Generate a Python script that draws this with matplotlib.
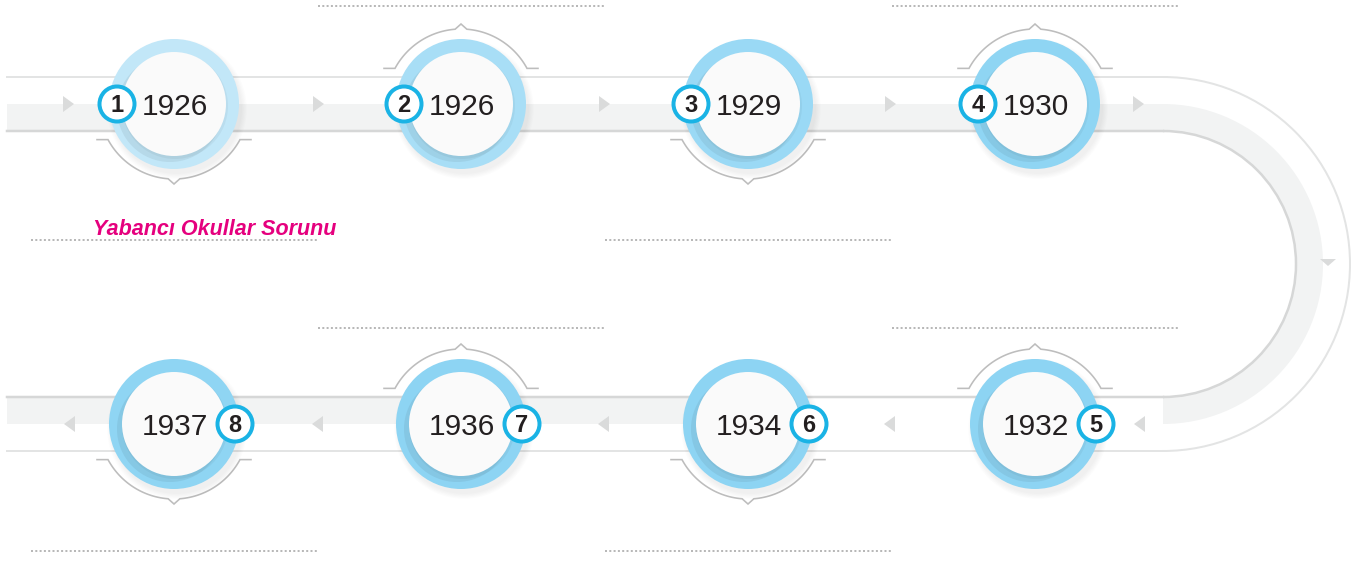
# Timeline infographic: eight dated steps on a U-shaped track.
import numpy as np
from matplotlib import pyplot as plt
from matplotlib.colors import to_rgb
from matplotlib.patches import Circle, Rectangle, Wedge, Arc, Polygon

# Data.
years = ["1926", "1926", "1929", "1930", "1932", "1934", "1936", "1937"]
steps = [1, 2, 3, 4, 5, 6, 7, 8]
ring_colors = ["#c2e7f8", "#a8def6", "#9ad9f5", "#8fd5f3",
               "#8dd4f3", "#8dd4f3", "#8dd4f3", "#8fd5f3"]
bracket_side = ["below", "above", "below", "above",
                "above", "below", "above", "below"]
caption = "Yabancı Okullar Sorunu"

# Layout (pixels, y grows downwards).
col_x = [174, 461, 748, 1035]
row_y = [104, 424]
track_left, track_right = 7, 1163
arc_cy = 264
band_out, band_mid, band_in = 187, 160, 133

GRAY_FILL = "#f2f3f3"
EDGE_LIGHT = "#e3e4e4"
EDGE_DARK = "#d6d7d7"
ARROW = "#dadbdb"
TEXT = "#231f20"
BADGE = "#1ab3e5"
PX = 0.72  # points per pixel at dpi 100

fig = plt.figure(figsize=(13.67, 5.62), dpi=100)
ax = fig.add_axes([0, 0, 1, 1])
ax.set_xlim(0, 1367)
ax.set_ylim(562, 0)
ax.axis("off")

# --- track: top straight band
top_y0 = arc_cy - band_out
ax.add_patch(Rectangle((track_left, arc_cy - band_mid), track_right - track_left,
                       band_mid - band_in, color=GRAY_FILL, lw=0, zorder=1))
ax.plot([track_left, track_right], [top_y0, top_y0], color=EDGE_LIGHT, lw=2 * PX, zorder=1.5)
ax.plot([track_left, track_right], [arc_cy - band_in] * 2, color=EDGE_DARK, lw=2.5 * PX, zorder=1.5)

# --- track: bottom straight band (grey half only on the left part)
ax.add_patch(Rectangle((track_left, arc_cy + band_in), col_x[2] - track_left,
                       band_mid - band_in, color=GRAY_FILL, lw=0, zorder=1))
ax.plot([track_left, track_right], [arc_cy + band_in] * 2, color=EDGE_DARK, lw=2.5 * PX, zorder=1.5)
ax.plot([track_left, track_right], [arc_cy + band_out] * 2, color=EDGE_LIGHT, lw=2 * PX, zorder=1.5)

# --- track: right half ring
ax.add_patch(Wedge((track_right, arc_cy), band_mid, -90, 90, width=band_mid - band_in,
                   color=GRAY_FILL, lw=0, zorder=1))
ax.add_patch(Arc((track_right, arc_cy), 2 * band_out, 2 * band_out, theta1=-90, theta2=90,
                 color=EDGE_LIGHT, lw=2 * PX, zorder=1.5))
ax.add_patch(Arc((track_right, arc_cy), 2 * band_in, 2 * band_in, theta1=-90, theta2=90,
                 color=EDGE_DARK, lw=2.5 * PX, zorder=1.5))

# --- direction arrows
for x in [68, 318, 604, 890, 1138]:
    ax.add_patch(Polygon([[x - 5, 96], [x - 5, 112], [x + 6, 104]], closed=True,
                         color=ARROW, lw=0, zorder=2))
for x in [70, 318, 604, 890, 1140]:
    ax.add_patch(Polygon([[x + 5, 416], [x + 5, 432], [x - 6, 424]], closed=True,
                         color=ARROW, lw=0, zorder=2))
ax.add_patch(Polygon([[1320, 259], [1336, 259], [1328, 266]], closed=True,
                     color=ARROW, lw=0, zorder=2))

# --- dotted separator lines
dot_y = {(0, "above"): 6, (0, "below"): 240, (1, "above"): 328, (1, "below"): 551}


def bracket(cx, cy, side):
    s = 1 if side == "below" else -1
    r = 75
    a0 = np.degrees(np.arccos(66 / r))
    left = np.radians(np.linspace(180 - a0, 94.5, 40))
    right = np.radians(np.linspace(85.5, a0, 40))
    xs = [cx - 77] + list(cx + r * np.cos(left)) + [cx] + list(cx + r * np.cos(right)) + [cx + 77]
    ys = ([cy + s * r * np.sin(np.radians(a0))] + list(cy + s * r * np.sin(left))
          + [cy + s * (r + 5)] + list(cy + s * r * np.sin(right))
          + [cy + s * r * np.sin(np.radians(a0))])
    ax.plot(xs, ys, color="#bdbdbd", lw=1.6 * PX, zorder=2, solid_joinstyle="miter")


for i, (year, num, ring, side) in enumerate(zip(years, steps, ring_colors, bracket_side)):
    row = 0 if i < 4 else 1
    cx = col_x[i] if row == 0 else col_x[7 - i]
    cy = row_y[row]

    bracket(cx, cy, side)
    ax.plot([cx - 143, cx + 143], [dot_y[(row, side)]] * 2, color="#b8b8b8",
            lw=2 * PX, ls=(0, (1, 1.15)), dash_capstyle="butt", zorder=2)

    # soft drop shadow
    for k in range(5):
        ax.add_patch(Circle((cx + 3, cy + 5), 65 + k * 1.2, color="k", alpha=0.012,
                            lw=0, zorder=3))
    ax.add_patch(Circle((cx, cy), 65, color=ring, lw=0, zorder=4))
    dark = tuple(np.array(to_rgb(ring)) * 0.94)
    ax.add_patch(Circle((cx - 4, cy + 5), 53, color=dark, lw=0, zorder=5))
    ax.add_patch(Circle((cx + 1, cy + 2), 53, color="k", alpha=0.04, lw=0, zorder=5.5))
    ax.add_patch(Circle((cx, cy), 52, color="#fafafa", lw=0, zorder=6))

    ax.text(cx + 1, cy + 11, year, fontsize=21.5, family="Liberation Sans",
            color=TEXT, ha="center", va="baseline", zorder=7)

    bx = cx - 57 if row == 0 else cx + 61
    ax.add_patch(Circle((bx, cy), 17.5, facecolor="white", edgecolor=BADGE,
                        lw=4 * PX, zorder=8))
    ax.text(bx, cy + 8.5, str(num), fontsize=17, family="Liberation Sans",
            weight="bold", color=TEXT, ha="center", va="baseline", zorder=9)

ax.text(336, 235, caption, fontsize=15.5, family="Liberation Sans", style="italic",
        weight="bold", color="#e5007e", ha="right", va="baseline", zorder=9)

fig.savefig("out.png", dpi=100)
